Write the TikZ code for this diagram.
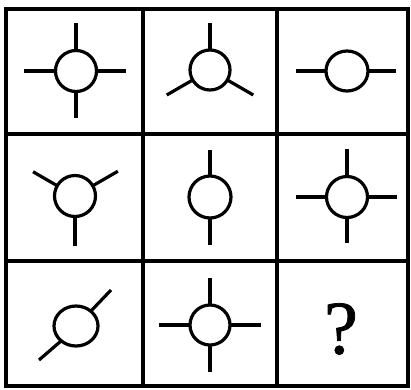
\documentclass[tikz,border=0pt]{standalone}
\usepackage{fontspec}
\newfontfamily\qfont[FakeBold=1]{Liberation Serif}
\begin{document}
\begin{tikzpicture}[x=1pt,y=-1pt,
  grid/.style={line width=3.5pt},
  sym/.style={line width=3.2pt},
  ring/.style={line width=3.2pt}]
\useasboundingbox (0,0) rectangle (411,389);
% grid
\draw[grid] (6,9) rectangle (408,386);
\draw[grid] (143,9) -- (143,386);
\draw[grid] (277,9) -- (277,386);
\draw[grid] (6,134) -- (408,134);
\draw[grid] (6,261) -- (408,261);
% cell 1
\draw[ring] (76,71) circle (20.5);
\draw[sym] (76,23) -- (76,50.5) (76,91.5) -- (76,118) (24,71) -- (55.5,71) (96.5,71) -- (126,71);
% cell 2
\draw[ring] (210,70) circle (20);
\draw[sym] (210,23) -- (210,50);
\draw[sym] (210,70) ++(150:20) -- ++(150:30);
\draw[sym] (210,70) ++(30:20) -- ++(30:30);
% cell 3
\draw[ring] (347,71) ellipse (21 and 20);
\draw[sym] (296,71) -- (326,71) (368,71) -- (396,71);
% cell 4
\draw[ring] (75,196) circle (20.5);
\draw[sym] (75,216.5) -- (75,246);
\draw[sym] (75,196) ++(-150:20.5) -- ++(-150:28);
\draw[sym] (75,196) ++(-30:20.5) -- ++(-30:29);
% cell 5
\draw[ring] (210,197) circle (21);
\draw[sym] (210,150) -- (210,176) (210,218) -- (210,245);
% cell 6
\draw[ring] (347,197) circle (20.5);
\draw[sym] (347,149) -- (347,176.5) (347,217.5) -- (347,243) (296,197) -- (326.5,197) (367.5,197) -- (397,197);
% cell 7
\draw[ring] (76,326) ellipse (22 and 20);
\draw[sym] (76,326) ++(-45:21) -- (111,290);
\draw[sym] (76,326) ++(135:21) -- (39,360);
% cell 8
\draw[ring] (210,325) circle (20);
\draw[sym] (210,278) -- (210,305) (210,345) -- (210,372) (159,325) -- (190,325) (230,325) -- (261,325);
% cell 9
\node (q) at (341,329) {\qfont\fontsize{76}{76}\selectfont ?};
\end{tikzpicture}
\end{document}
